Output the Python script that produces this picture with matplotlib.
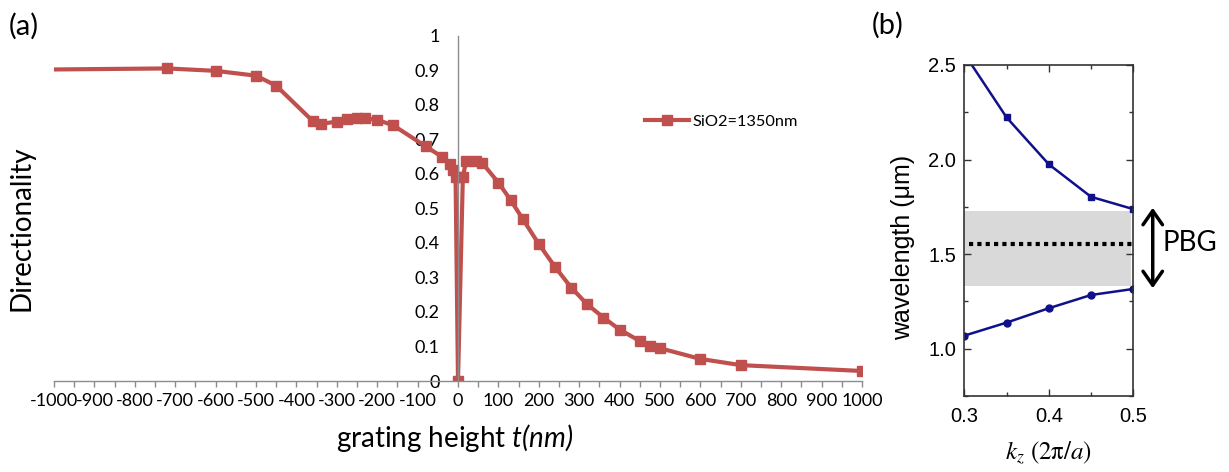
import numpy as np
import matplotlib
matplotlib.use("Agg")
import matplotlib.pyplot as plt
from matplotlib.lines import Line2D
from matplotlib.ticker import MultipleLocator, FuncFormatter

# ---- (a) directionality vs grating height ----
grating_t = [-1000, -720, -600, -500, -450, -360, -340, -300, -275, -250, -230, -200,
             -160, -80, -40, -20, -12, -6, 0, 12, 20, 45, 60, 100, 130, 160, 200,
             240, 280, 320, 360, 400, 450, 475, 500, 600, 700, 1000]
directionality = [0.903, 0.906, 0.899, 0.885, 0.856, 0.754, 0.745, 0.752, 0.760, 0.763,
                  0.761, 0.757, 0.741, 0.680, 0.650, 0.629, 0.612, 0.591, 0.0, 0.592,
                  0.637, 0.639, 0.632, 0.575, 0.525, 0.470, 0.397, 0.331, 0.271, 0.222,
                  0.184, 0.149, 0.116, 0.102, 0.095, 0.064, 0.046, 0.029]
series_label = "SiO2=1350nm"

# ---- (b) band diagram ----
kz = [0.30, 0.35, 0.40, 0.45, 0.50]
upper_band = [2.56, 2.223, 1.975, 1.803, 1.738]
lower_band = [1.069, 1.138, 1.214, 1.284, 1.316]
gap_low, gap_high = 1.331, 1.728
design_wavelength = 1.555

plt.rcParams["axes.unicode_minus"] = False
plt.rcParams["font.family"] = ["Liberation Sans", "DejaVu Sans"]
# custom math fonts: everything inside $...$ in italic Lato (used for "t(nm)")
plt.rcParams["mathtext.fontset"] = "custom"
plt.rcParams["mathtext.rm"] = "Lato:italic"
plt.rcParams["mathtext.it"] = "Lato:italic"

W, H = 1229, 472
fig = plt.figure(figsize=(W / 100, H / 100), dpi=100)

red = "#C0504D"
grey = "#8c8c8c"

ax = fig.add_axes([54 / W, 1 - 381 / H, 808 / W, 345 / H])
ax.plot(grating_t, directionality, color=red, lw=3, marker="s", ms=7.5,
        markevery=list(range(1, len(grating_t))), solid_joinstyle="round", zorder=2)
ax.set_xlim(-1000, 1000)
ax.set_ylim(0, 1)
for s in ["top", "right"]:
    ax.spines[s].set_visible(False)
ax.spines["left"].set_position(("data", 0))
for s in ["left", "bottom"]:
    ax.spines[s].set_color(grey)
    ax.spines[s].set_linewidth(1.0)
    ax.spines[s].set_zorder(3)
ax.xaxis.set_major_locator(MultipleLocator(100))
ax.xaxis.set_minor_locator(MultipleLocator(50))
ax.xaxis.set_major_formatter(FuncFormatter(lambda v, p: f"{v:.0f}"))
ax.set_yticks(np.round(np.arange(0, 1.01, 0.1), 1))
ax.yaxis.set_major_formatter(FuncFormatter(lambda v, p: f"{v:g}"))
ax.tick_params(axis="x", which="both", direction="out", length=4, color=grey,
               width=1, labelsize=13, pad=5, labelfontfamily="Lato")
ax.tick_params(axis="y", length=0, pad=13, labelsize=13, labelfontfamily="Lato")
ax.patch.set_alpha(0)

handle = Line2D([], [], color=red, lw=3, marker="s", ms=7.5)
ax.legend([handle], [series_label], loc="center left", bbox_to_anchor=(0.731, 0.751),
          frameon=False, borderpad=0, borderaxespad=0, handlelength=2.7,
          handletextpad=0.25, numpoints=1, prop={"family": "Lato", "size": 11.8})

fig.text(22 / W, 1 - 228 / H, "Directionality", rotation=90, ha="center", va="center",
         fontsize=20, family="Lato")
fig.text(455 / W, 1 - 438 / H, r"grating height $t(nm)$", ha="center",
         va="center", fontsize=20, family="Lato", math_fontfamily="custom")
fig.text(9 / W, 1 - 26 / H, "(a)", ha="left", va="center", fontsize=21, family="Lato")
fig.text(872 / W, 1 - 25 / H, "(b)", ha="left", va="center", fontsize=21, family="Lato")

# ---- panel (b) ----
navy = "#10108a"
ax2 = fig.add_axes([964.3 / W, 76 / H, 169 / W, 331 / H])
ax2.fill_between([0.30, 0.497], gap_low, gap_high, color="#d9d9d9", lw=0, zorder=0)
ax2.plot([0.305, 0.50], [design_wavelength] * 2, color="k", lw=3,
         ls=(0, (1, 1)), dash_capstyle="butt", zorder=1)
ax2.plot(kz, upper_band, color=navy, lw=1.8, marker="s", ms=4.5, zorder=2)
ax2.plot(kz, lower_band, color=navy, lw=1.8, marker="o", ms=5, zorder=2)
ax2.set_xlim(0.3, 0.5)
ax2.set_ylim(0.75, 2.5)
ax2.xaxis.set_major_locator(MultipleLocator(0.1))
ax2.xaxis.set_minor_locator(MultipleLocator(0.05))
ax2.yaxis.set_major_locator(MultipleLocator(0.5))
ax2.yaxis.set_minor_locator(MultipleLocator(0.25))
ax2.xaxis.set_major_formatter(FuncFormatter(lambda v, p: f"{v:.1f}"))
ax2.yaxis.set_major_formatter(FuncFormatter(lambda v, p: f"{v:.1f}"))
ax2.tick_params(which="both", direction="in", top=True, right=True, width=1,
                color="#333333", labelsize=14.5)
ax2.tick_params(which="major", length=5)
ax2.tick_params(which="minor", length=3)
ax2.tick_params(axis="y", pad=6)
ax2.tick_params(axis="x", pad=8)
for s in ax2.spines.values():
    s.set_linewidth(1.2)
    s.set_color("#333333")

ax2.annotate("", xy=(0.523, 1.745), xytext=(0.523, 1.32),
             arrowprops=dict(arrowstyle="<->,head_length=0.5,head_width=0.35", lw=2.5,
                             color="k", mutation_scale=20, shrinkA=0, shrinkB=0),
             annotation_clip=False)
ax2.text(0.534, 1.557, "PBG", ha="left", va="center", fontsize=20, family="Lato",
         clip_on=False)

fig.text(903 / W, 1 - 247 / H, "wavelength (\u03bcm)", rotation=90, ha="center",
         va="center", fontsize=18)
fig.text(1048 / W, 1 - 453 / H, r"$k_z\ (2\mathrm{\pi}/a)$", ha="center", va="center",
         fontsize=18, math_fontfamily="stix")

fig.savefig("out.png", dpi=100)
